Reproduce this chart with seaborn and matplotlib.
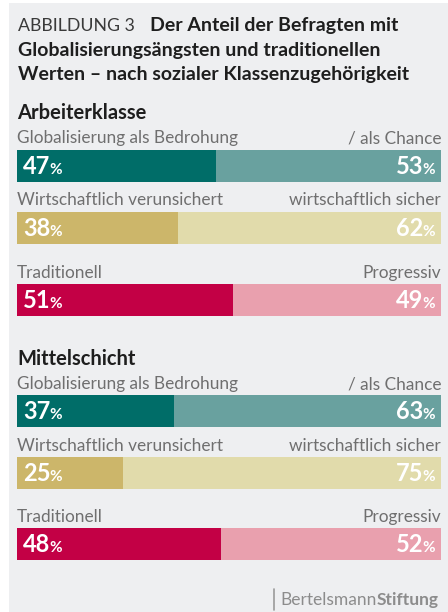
import pandas as pd
import matplotlib.pyplot as plt
import seaborn as sns
from matplotlib.patches import Rectangle

# data
groups = ["Arbeiterklasse", "Mittelschicht"]
left_labels = ["Globalisierung als Bedrohung", "Wirtschaftlich verunsichert", "Traditionell"]
right_labels = ["/ als Chance", "wirtschaftlich sicher", "Progressiv"]
arbeiter_left = [47, 38, 51]
arbeiter_right = [53, 62, 49]
mittel_left = [37, 25, 48]
mittel_right = [63, 75, 52]

dark_colors = ["#006d68", "#ccb66a", "#c30045"]
light_colors = ["#69a19f", "#e1dbab", "#e9a0ae"]

W, H = 448, 612
BG = "#eeeff1"
GRAY = "#6f6f6f"
TXT = "#1e1e1e"

sns.set_theme(style="white")
plt.rcParams["font.family"] = ["Lato", "DejaVu Sans"]

fig = plt.figure(figsize=(W / 100, H / 100), dpi=100)
fig.patch.set_facecolor("white")
fig.patches.append(Rectangle((9 / W, 0), 1, 1 - 3 / H, transform=fig.transFigure,
                             facecolor=BG, edgecolor="none", zorder=-10))


def fx(x):
    return x / W


def fy(y):
    return 1 - y / H


renderer = fig.canvas.get_renderer()


def width_px(t):
    bb = t.get_window_extent(renderer)
    return bb.width


# title
fig.text(fx(18), fy(31), "ABBILDUNG 3", fontsize=12.8, fontweight="normal", color="#3a3a3a")
fig.text(fx(150), fy(31), "Der Anteil der Befragten mit",
         fontsize=14, fontweight="bold", color=TXT)
fig.text(fx(18), fy(56), "Globalisierungsängsten und traditionellen",
         fontsize=14, fontweight="bold", color=TXT)
fig.text(fx(18), fy(80), "Werten – nach sozialer Klassenzugehörigkeit",
         fontsize=14, fontweight="bold", color=TXT)

# layout per group: heading baseline, label baselines, bar tops
layout = [
    dict(head=119, labels=[143, 205, 278], bars=[150, 212, 284]),
    dict(head=365, labels=[389, 451, 522], bars=[395, 457, 528]),
]
lefts = [arbeiter_left, mittel_left]
rights = [arbeiter_right, mittel_right]

x0, x1 = 17, 441
bar_h = 32

for g, name in enumerate(groups):
    lay = layout[g]
    fig.text(fx(17), fy(lay["head"]), name, fontsize=14.5, fontweight="bold", color=TXT)
    for i in range(3):
        fig.text(fx(17), fy(lay["labels"][i]), left_labels[i], fontsize=12.4, color=GRAY)
        fig.text(fx(x1), fy(lay["labels"][i]), right_labels[i], fontsize=12.4, color=GRAY, ha="right")

        top = lay["bars"][i]
        ax = fig.add_axes([fx(x0), fy(top + bar_h), (x1 - x0) / W, bar_h / H])
        lv = lefts[g][i]
        rv = rights[g][i]
        df = pd.DataFrame({"row": [""], "left": [lv], "right": [rv]})
        sns.barplot(data=df, x="left", y="row", orient="h", color=dark_colors[i],
                    width=1, saturation=1, linewidth=0, edgecolor="none", ax=ax)
        sns.barplot(data=df, x="right", y="row", orient="h", color=light_colors[i],
                    width=1, saturation=1, left=lv, linewidth=0, edgecolor="none", ax=ax)
        ax.set_xlim(0, 100)
        ax.set_ylim(0.5, -0.5)
        ax.axis("off")

        base = top + 24
        n = fig.text(fx(23), fy(base), str(lv), fontsize=17, fontweight="bold", color="white")
        nw = width_px(n)
        fig.text(fx(23 + nw - 1), fy(base), "%", fontsize=11, fontweight="bold", color="white")

        p = fig.text(fx(435), fy(base), "%", fontsize=11, fontweight="bold", color="white", ha="right")
        pw = width_px(p)
        fig.text(fx(435 - pw + 1), fy(base), str(rv), fontsize=17, fontweight="bold",
                 color="white", ha="right")

# footer
fig.add_artist(plt.Line2D([fx(274), fx(274)], [fy(610), fy(589)], transform=fig.transFigure,
                          color="#9a9a9a", lw=1.2))
s = fig.text(fx(439), fy(605), "Stiftung", fontsize=12.5, fontweight="bold", color="#8c8c8c", ha="right")
sw = width_px(s)
fig.text(fx(439 - sw), fy(605), "Bertelsmann", fontsize=12.5, color="#8c8c8c", ha="right")

fig.savefig("out.png", dpi=100, facecolor=fig.get_facecolor())
